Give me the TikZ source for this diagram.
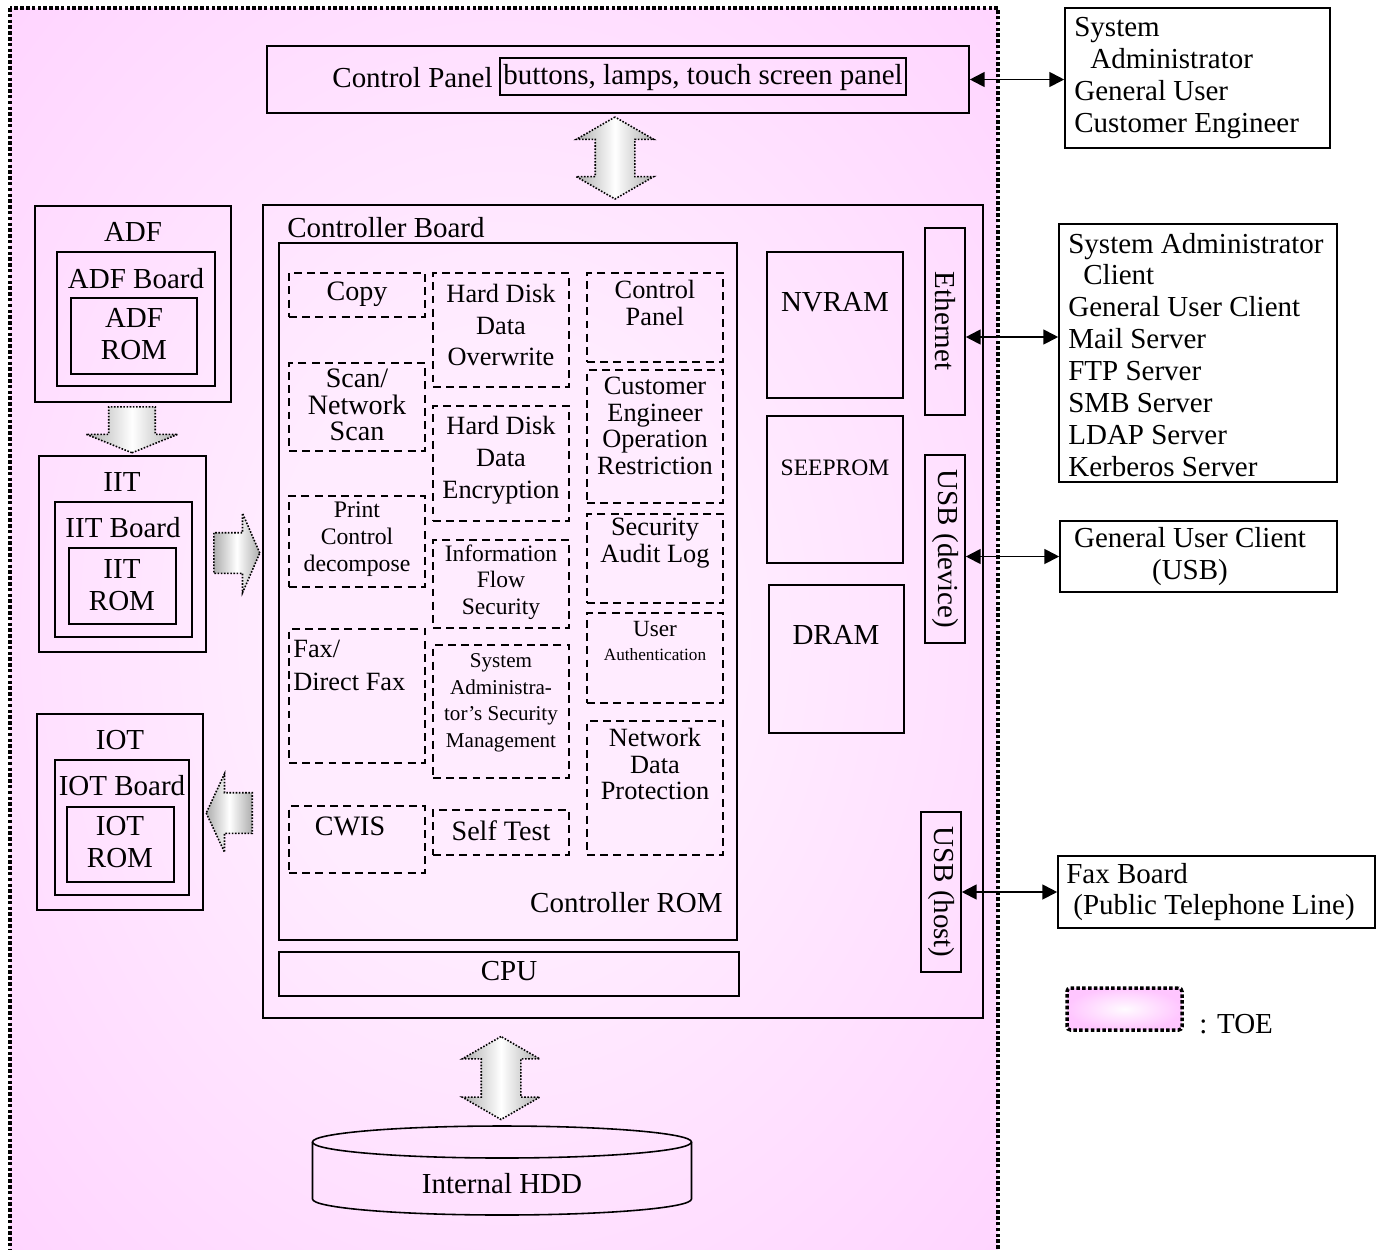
\documentclass[tikz,border=0pt]{standalone}
\usepackage{fontspec}
\setmainfont{Liberation Serif}
\usetikzlibrary{arrows.meta,fit,shapes.arrows}
\definecolor{toeout}{RGB}{255,198,255}
\definecolor{toein}{RGB}{255,236,255}
\pgfdeclareradialshading{toeshade}{\pgfpoint{0bp}{0bp}}{color(0bp)=(toein); color(12bp)=(toein); color(50bp)=(toeout); color(72bp)=(toeout)}
\newcommand\fsz[2]{\fontsize{#1}{#2}\selectfont}
\tikzset{
  bx/.style={draw, line width=0.9pt, inner sep=0pt},
  fn/.style={draw, line width=0.9pt, dash pattern=on 4.5pt off 3pt, inner sep=0pt},
  txt/.style={inner sep=0pt, align=center},
  blk/.style={draw, line width=0.9pt, dash pattern=on 0.9pt off 0.9pt, inner xsep=0pt,
    left color=black!32, right color=black!32, middle color=white},
  lnk/.style={<->, line width=1.1pt},
  toeline/.style={line width=2pt, dash pattern=on 2pt off 1.3pt},
}
\begin{document}
\begin{tikzpicture}[x=0.02cm, y=-0.02cm, font=\fsz{16.5}{18.2}, >={Triangle[length=8.5pt,width=8.5pt]}]
\clip (0,0) rectangle (1383,1249);
% TOE area
\shade[shading=toeshade] (10,8) rectangle (998,1262);
\draw[toeline] (10,8) rectangle (998,1262);

% control panel
\node[bx, fit={(267,46) (969,113)}] (cpanel) {};
\node[txt, anchor=east] (cpanel-t) at (493,78) {Control Panel};
\node[bx, line width=1.2pt, fit={(500,58) (906,95)}] (cpbtn) {};
\node[txt] (cpbtn-t) at (703,78) {buttons, lamps, touch screen panel};

% outside the TOE
\node[bx, fit={(1065,8) (1330,148)}] (users) {};
\node[txt, align=left, anchor=west] (users-t) at (1074,78) {System\\\hspace{0.32cm}Administrator\\General User\\Customer Engineer};
\node[bx, fit={(1059,224) (1337,482)}] (clients) {};
\node[txt, align=left, anchor=west] (clients-t) at (1068,355) {System Administrator\\\hspace{0.3cm}Client\\General User Client\\Mail Server\\FTP Server\\SMB Server\\LDAP Server\\Kerberos Server};
\node[bx, fit={(1060,521) (1337,592)}] (usbcl) {};
\node[txt] (usbcl-t) at (1190,557) {General User Client\\(USB)};
\node[bx, fit={(1058,856) (1375,928)}] (faxbd) {};
\node[txt, align=left, anchor=west] (faxbd-t) at (1066,892) {Fax Board\\\hspace{0.14cm}(Public Telephone Line)};

% controller board
\node[bx, fit={(263,205) (983,1018)}] (ctrl) {};
\node[txt, anchor=west] (ctrl-t) at (287,228) {Controller Board};
\node[bx, fit={(279,243) (737,940)}] (rom) {};
\node[txt, anchor=east] (rom-t) at (723,903) {Controller ROM};
\node[bx, fit={(279,952) (739,996)}] (cpu) {};
\node[txt] (cpu-t) at (509,971) {CPU};
\node[bx, fit={(767,252) (903,398)}] (nvram) {};
\node[txt] (nvram-t) at (835,302) {NVRAM};
\node[bx, fit={(767,416) (903,563)}] (seeprom) {};
\node[txt, font=\fsz{13.4}{15}] (seeprom-t) at (835,468) {SEEPROM};
\node[bx, fit={(769,585) (904,733)}] (dram) {};
\node[txt] (dram-t) at (836,635) {DRAM};
\node[bx, fit={(925,228) (965,415)}] (eth) {};
\node[txt, rotate=-90] (eth-t) at (945,321) {Ethernet};
\node[bx, fit={(925,455) (965,643)}] (usbd) {};
\node[txt, rotate=-90] (usbd-t) at (945,549) {USB (device)};
\node[bx, fit={(921,812) (961,972)}] (usbh) {};
\node[txt, rotate=-90] (usbh-t) at (941,892) {USB (host)};

% functions in the controller ROM
\def\xa{289} \def\xb{425} \def\xc{433} \def\xd{569} \def\xe{587} \def\xf{723}
\node[fn, fit={(\xa,273) (\xb,317)}] (copy) {};
\node[txt, font=\fsz{16}{15}] (copy-t) at (357,294) {Copy};
\node[fn, fit={(\xa,363) (\xb,451)}] (scan) {};
\node[txt, font=\fsz{16}{15}] (scan-t) at (357,405) {Scan/\\Network\\Scan};
\node[fn, fit={(\xa,496) (\xb,587)}] (print) {};
\node[txt, font=\fsz{13.5}{15.3}] (print-t) at (357,539) {Print\\Control\\decompose};
\node[fn, fit={(\xa,629) (\xb,763)}] (fax) {};
\node[txt, align=left, anchor=west, font=\fsz{15}{18.7}] (fax-t) at (293,665) {Fax/\\Direct Fax};
\node[fn, fit={(\xa,806) (\xb,873)}] (cwis) {};
\node[txt, font=\fsz{16}{15}] (cwis-t) at (350,826) {CWIS};
\node[fn, fit={(\xc,273) (\xd,387)}] (hdo) {};
\node[txt, font=\fsz{15}{18.1}] (hdo-t) at (501,325) {Hard Disk\\Data\\Overwrite};
\node[fn, fit={(\xc,406) (\xd,521)}] (hde) {};
\node[txt, font=\fsz{15}{18.1}] (hde-t) at (501,460) {Hard Disk\\Data\\Encryption};
\node[fn, fit={(\xc,540) (\xd,628)}] (ifs) {};
\node[txt, font=\fsz{13.4}{15}] (ifs-t) at (501,582) {Information\\Flow\\Security};
\node[fn, fit={(\xc,645) (\xd,778)}] (sasm) {};
\node[txt, font=\fsz{12}{15.1}] (sasm-t) at (501,703) {System\\Administra-\\tor's Security\\Management};
\node[fn, fit={(\xc,810) (\xd,855)}] (self) {};
\node[txt, font=\fsz{16}{15}] (self-t) at (501,831) {Self Test};
\node[fn, fit={(\xe,273) (\xf,362)}] (cpfn) {};
\node[txt, font=\fsz{15}{15.3}] (cpfn-t) at (655,303) {Control\\Panel};
\node[fn, fit={(\xe,370) (\xf,503)}] (cer) {};
\node[txt, font=\fsz{15}{15.1}] (cer-t) at (655,426) {Customer\\Engineer\\Operation\\Restriction};
\node[fn, fit={(\xe,514) (\xf,603)}] (sal) {};
\node[txt, font=\fsz{15}{15.3}] (sal-t) at (655,543) {Security\\Audit Log};
\node[fn, fit={(\xe,613) (\xf,703)}] (ua) {};
\node[txt, font=\fsz{13.2}{15}] (ua-t) at (655,629) {User};
\node[txt, font=\fsz{9.8}{12}] (ua-t2) at (655,655) {Authentication};
\node[fn, fit={(\xe,721) (\xf,855)}] (ndp) {};
\node[txt, font=\fsz{15}{15}] (ndp-t) at (655,764) {Network\\Data\\Protection};

% scanner, printer
\node[bx, fit={(35,206) (231,402)}] (adf) {};
\node[txt] (adf-t) at (133,232) {ADF};
\node[bx, fit={(57,252) (215,386)}] (adfb) {};
\node[txt] (adfb-t) at (136,279) {ADF Board};
\node[bx, fit={(71,298) (197,374)}] (adfr) {};
\node[txt] (adfr-t) at (134,334) {ADF\\ROM};
\node[bx, fit={(39,456) (206,652)}] (iit) {};
\node[txt] (iit-t) at (122,482) {IIT};
\node[bx, fit={(55,502) (192,637)}] (iitb) {};
\node[txt] (iitb-t) at (123,528) {IIT Board};
\node[bx, fit={(69,548) (176,624)}] (iitr) {};
\node[txt] (iitr-t) at (122,585) {IIT\\ROM};
\node[bx, fit={(37,714) (203,910)}] (iot) {};
\node[txt] (iot-t) at (120,740) {IOT};
\node[bx, fit={(55,760) (189,895)}] (iotb) {};
\node[txt] (iotb-t) at (122,786) {IOT Board};
\node[bx, fit={(67,807) (174,882)}] (iotr) {};
\node[txt] (iotr-t) at (120,842) {IOT\\ROM};

% internal HDD
\draw[line width=0.9pt] (502,1142) ellipse [x radius=189.5, y radius=16];
\draw[line width=0.9pt] (312.5,1142) -- (312.5,1199) arc[start angle=180, end angle=0, x radius=189.5, y radius=16] -- (691.5,1142);
\node[txt] (hdd) at (502,1184) {Internal HDD};

% block arrows
\node[blk, double arrow, rotate=90, inner ysep=0.38cm, minimum height=1.64cm, minimum width=1.52cm,
  double arrow head extend=0.38cm, double arrow tip angle=120] (cparr) at (615,158) {};
\node[blk, double arrow, rotate=90, inner ysep=0.38cm, minimum height=1.66cm, minimum width=1.52cm,
  double arrow head extend=0.38cm, double arrow tip angle=120] (hddarr) at (501,1078) {};
\node[blk, single arrow, rotate=-90, anchor=tail, inner ysep=0.45cm, minimum height=0.92cm, minimum width=1.8cm,
  single arrow head extend=0.45cm, single arrow tip angle=136] (adfarr) at (132,406) {};
\node[blk, single arrow, anchor=tail, inner ysep=0.39cm, minimum height=0.92cm, minimum width=1.56cm,
  single arrow head extend=0.39cm, single arrow tip angle=133] (iitarr) at (213,553) {};
\node[blk, single arrow, rotate=180, anchor=tail, inner ysep=0.39cm, minimum height=0.92cm, minimum width=1.54cm,
  single arrow head extend=0.38cm, single arrow tip angle=130] (iotarr) at (253,813) {};

% interfaces
\draw[lnk] (cpanel.east) -- (cpanel.east -| users.west);
\draw[lnk] ([yshift=-0.31cm]eth.east) -- ([yshift=-0.31cm]eth.east -| clients.west);
\draw[lnk] (usbcl.west -| usbd.east) -- (usbcl.west);
\draw[lnk] (usbh.east) -- (usbh.east -| faxbd.west);

% legend
\node[toeline, draw, rounded corners=2pt, inner sep=0pt,
  inner color=white!80!toein, outer color=toeout, fit={(1067,988) (1182,1030)}] (toekey) {};
\node[txt, anchor=west] (toekey-t) at (1199,1024) {: TOE};
\end{tikzpicture}
\end{document}
